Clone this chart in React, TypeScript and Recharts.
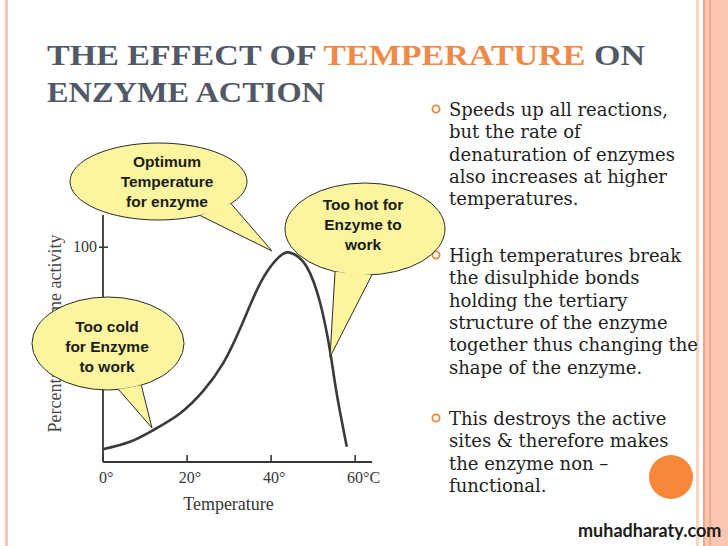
import { LineChart, Line, XAxis, YAxis } from 'recharts';

// curve
const temperatures = [0, 6.4, 12, 18.3, 23.9, 28.6, 32.6, 36.6, 39.8, 42.6, 44.1, 45.6, 48.5, 51.7, 54.1, 55.6, 58];
const activity = [5.9, 9.4, 14.9, 22.6, 33.2, 46, 62, 80, 90.8, 96.6, 97.6, 96.6, 90.8, 73.8, 50.7, 31.9, 7.1];

const xTicks = [0, 20, 40, 60];
const xTickLabels = ['0°', '20°', '40°', '60°C'];
const yTicks = [100];

const bullet1 = ['Speeds up all reactions,', 'but the rate of', 'denaturation of enzymes', 'also increases at higher', 'temperatures.'];
const bullet2 = ['High temperatures break', 'the disulphide bonds', 'holding the tertiary', 'structure of the enzyme', 'together thus changing the', 'shape of the enzyme.'];
const bullet3 = ['This destroys the active', 'sites & therefore makes', 'the enzyme non –', 'functional.'];

const data = temperatures.map((t, i) => ({ t, v: activity[i] }));

const INK = '#363636';
const SERIF = "'Liberation Serif', 'Times New Roman', serif";
const BUBBLE_FONT = "'Liberation Sans', Arial, sans-serif";

const XTick = (props: any) => {
  const { x, y, payload, index } = props;
  const label = xTickLabels[index] ?? String(payload.value);
  const digits = String(payload.value).length;
  return (
    <g>
      <line x1={x} y1={y} x2={x} y2={y - 7} stroke={INK} strokeWidth={1.6} />
      <text x={x - digits * 4.1} y={y + 21} fontFamily={SERIF} fontSize={16} fill={INK}>
        {label}
      </text>
    </g>
  );
};

const YTick = (props: any) => {
  const { x, y, payload } = props;
  return (
    <g>
      <line x1={x - 4} y1={y} x2={x + 5} y2={y} stroke={INK} strokeWidth={1.6} />
      <text x={x - 6} y={y + 5} textAnchor="end" fontFamily={SERIF} fontSize={16} fill={INK}>
        {payload.value}
      </text>
    </g>
  );
};

type BubbleProps = {
  cx: number; cy: number; rx: number; ry: number;
  a1: number; a2: number; tip: [number, number];
  lines: string[]; tx: number; ty: number;
};

const Bubble = ({ cx, cy, rx, ry, a1, a2, tip, lines, tx, ty }: BubbleProps) => {
  const p = (a: number) => [cx + rx * Math.cos((a * Math.PI) / 180), cy + ry * Math.sin((a * Math.PI) / 180)];
  const [b1x, b1y] = p(a1);
  const [b2x, b2y] = p(a2);
  const fill = '#fbf59f';
  return (
    <g>
      <ellipse cx={cx} cy={cy} rx={rx} ry={ry} fill={fill} stroke="#2a2a2a" strokeWidth={1} />
      <polygon points={`${b1x},${b1y} ${tip[0]},${tip[1]} ${b2x},${b2y}`} fill={fill} />
      <polyline points={`${b1x},${b1y} ${tip[0]},${tip[1]} ${b2x},${b2y}`} fill="none" stroke="#2a2a2a" strokeWidth={1} />
      {lines.map((l, i) => (
        <text key={i} x={tx} y={ty + i * 20} textAnchor="middle" fontFamily={BUBBLE_FONT} fontWeight="bold" fontSize={15.5} fill="#1c1c1c">
          {l}
        </text>
      ))}
    </g>
  );
};

const BulletBlock = ({ lines, y }: { lines: string[]; y: number }) => (
  <g>
    <circle cx={436} cy={y - 7} r={3.6} fill="none" stroke="#e8883a" strokeWidth={1.8} />
    {lines.map((l, i) => (
      <text key={i} x={449} y={y + i * 22.3} fontFamily="'DejaVu Serif', serif" fontSize={18} fill="#1e1e1e">
        {l}
      </text>
    ))}
  </g>
);

export default function App() {
  return (
    <div style={{ position: 'absolute', left: 0, top: 0, width: 728, height: 546, background: '#fff', overflow: 'hidden' }}>
      {/* slide frame */}
      <div style={{ position: 'absolute', left: 5, top: 0, width: 3, height: 546, background: '#f5c8b4' }} />
      <div style={{ position: 'absolute', left: 696, top: 0, width: 3, height: 546, background: '#f8d4c4' }} />
      <div style={{ position: 'absolute', left: 703, top: 0, width: 25, height: 546, background: '#fbc6b1' }} />
      <div style={{ position: 'absolute', left: 703, top: 0, width: 2, height: 546, background: '#efa688' }} />
      <div style={{ position: 'absolute', left: 709, top: 0, width: 2, height: 546, background: '#f1a98c' }} />

      <div style={{ position: 'absolute', left: 0, top: 0 }}>
        <LineChart width={400} height={546} data={data} margin={{ top: 215, right: 28, left: 53, bottom: 32 }}>
          <XAxis
            dataKey="t"
            type="number"
            domain={[0, 64]}
            ticks={xTicks}
            tick={<XTick />}
            tickSize={0}
            tickMargin={0}
            tickLine={false}
            height={52}
            axisLine={{ stroke: INK, strokeWidth: 1.8 }}
            label={{ value: 'Temperature', position: 'insideBottom', offset: 4, dx: -9, fill: INK, fontFamily: SERIF, fontSize: 18 }}
          />
          <YAxis
            type="number"
            domain={[0, 115]}
            ticks={yTicks}
            tick={<YTick />}
            tickSize={0}
            tickMargin={0}
            tickLine={false}
            width={50}
            axisLine={{ stroke: INK, strokeWidth: 1.8 }}
            label={{
              value: 'Percentage enzyme activity',
              angle: -90,
              position: 'insideLeft',
              offset: 2,
              dy: -5,
              fill: '#444',
              fontFamily: SERIF,
              fontSize: 18,
              style: { textAnchor: 'middle' },
            }}
          />
          <Line type="natural" dataKey="v" stroke="#3a3a3a" strokeWidth={2.6} dot={false} isAnimationActive={false} />
        </LineChart>
      </div>

      <svg width={728} height={546} style={{ position: 'absolute', left: 0, top: 0, pointerEvents: 'none' }}>
        <text x={47} y={65} fontFamily={SERIF} fontWeight="bold" fontSize={30} fill="#515866" textLength={598} lengthAdjust="spacingAndGlyphs">
          THE EFFECT OF <tspan fill="#ee8a48">TEMPERATURE</tspan> ON
        </text>
        <text x={47} y={102} fontFamily={SERIF} fontWeight="bold" fontSize={30} fill="#515866" textLength={278} lengthAdjust="spacingAndGlyphs">
          ENZYME ACTION
        </text>

        <BulletBlock lines={bullet1} y={116} />
        <BulletBlock lines={bullet2} y={262} />
        <BulletBlock lines={bullet3} y={425} />

        <Bubble cx={158.5} cy={181.5} rx={88.5} ry={38.5} a1={35} a2={62} tip={[272, 251]}
          lines={['Optimum', 'Temperature', 'for enzyme']} tx={167} ty={167} />
        <Bubble cx={365} cy={229} rx={80} ry={46} a1={85} a2={112} tip={[330, 357]}
          lines={['Too hot for', 'Enzyme to', 'work']} tx={363} ty={210} />
        <Bubble cx={108} cy={343.5} rx={76} ry={46.5} a1={64} a2={82} tip={[152, 428]}
          lines={['Too cold', 'for Enzyme', 'to work']} tx={107} ty={332} />

        <circle cx={671} cy={477} r={22} fill="#f7883a" />
        <text x={578} y={537} fontFamily="Lato, 'Noto Sans', sans-serif" fontWeight="bold" fontSize={18} fill="#1c1c1c">
          muhadharaty.com
        </text>
      </svg>
    </div>
  );
}
